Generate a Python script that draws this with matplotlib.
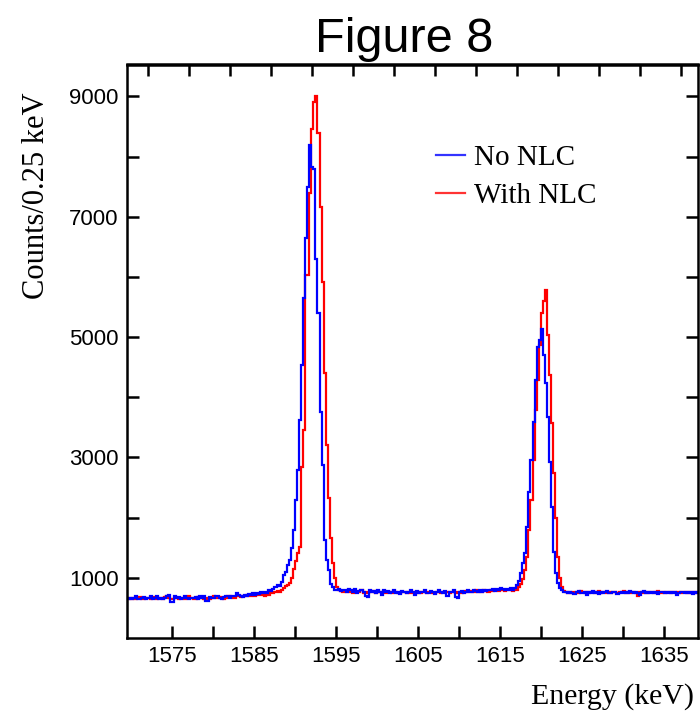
import numpy as np
import matplotlib
matplotlib.use("Agg")
import matplotlib.pyplot as plt
from matplotlib.lines import Line2D

plt.rcParams['font.family'] = 'Liberation Sans'

# histogram binning (Counts/0.25 keV)
bin_start = 1569.5
bin_width = 0.25

# --- No NLC (blue) ---
blue_left = [
    650, 670, 640, 660, 690, 655, 640, 670, 680, 650,
    660, 700, 640, 665, 690, 650, 670, 640, 660, 700,
    720, 600, 590, 700, 660, 680, 650, 670, 690, 660,
    640, 670, 660, 680, 650, 690, 660, 700, 610, 620,
    680, 670, 660, 690, 700, 670, 650, 680, 700, 690,
    660, 700, 690, 740, 720, 690, 680, 710, 700, 730,
    720, 750, 710, 740, 730, 760]
blue_peak1 = [
    740, 760, 750, 790, 780, 820, 840, 880, 870, 930,
    1050, 1100, 1220, 1300, 1500, 1800, 2300, 2800, 3630, 4540,
    5650, 6640, 7490, 8200, 7820, 7790, 6290, 5400, 3760, 2880,
    1630, 1300, 1130, 900, 850, 800, 790, 820, 780, 800]
blue_mid = [
    800, 770, 820, 790, 760, 810, 740, 780, 800, 760,
    700, 680, 790, 760, 780, 740, 800, 770, 720, 790,
    760, 780, 740, 770, 800, 750, 760, 730, 780, 760,
    740, 770, 790, 760, 720, 780, 750, 770, 760, 790,
    740, 750, 780, 760, 730, 770, 790, 760, 750, 780,
    700, 760, 770, 790, 680, 660, 760, 780, 750, 770,
    790, 760, 770, 800, 780, 760, 790, 770, 800, 780,
    800, 790, 810, 780, 820, 800, 830, 810, 790, 820,
    800, 830]
blue_peak2 = [
    800, 830, 880, 950, 1080, 1250, 1410, 1850, 2430, 2960,
    3590, 4290, 4840, 4960, 5140, 4700, 4240, 3680, 2930, 2180,
    1430, 1080, 910, 830, 790, 760]
blue_right = [
    760, 740, 770, 750, 730, 760, 780, 740, 750, 770,
    720, 760, 750, 780, 740, 760, 730, 770, 750, 760,
    780, 740, 750, 770, 760, 730, 750, 770, 740, 760,
    750, 780, 760, 740, 770, 750, 720, 760, 780, 750,
    760, 740, 770, 750, 760, 730, 760, 770, 740, 760,
    750, 770, 740, 760, 720, 750, 770, 760, 740, 760,
    750, 770, 730, 760, 750, 770]

# --- With NLC (red) ---
red_left = [
    640, 660, 650, 670, 650, 660, 680, 650, 640, 670,
    660, 650, 680, 660, 640, 670, 660, 650, 680, 690,
    660, 640, 650, 670, 660, 650, 670, 660, 650, 680,
    690, 660, 640, 650, 680, 660, 670, 640, 630, 660,
    650, 670, 690, 660, 670, 680, 660, 650, 670, 690,
    700, 680, 660, 690, 700, 680, 700, 690, 720, 700,
    690, 720, 700, 730, 710, 720]
red_peak1 = [
    720, 700, 730, 720, 750, 740, 760, 780, 770, 800,
    830, 860, 880, 920, 1000, 1150, 1280, 1420, 1520, 2840,
    3460, 6040, 6040, 7400, 8450, 8900, 9000, 8400, 7170, 5920,
    4400, 3210, 2330, 1670, 1250, 1000, 850, 800, 780, 760]
red_mid = [
    780, 760, 790, 770, 750, 780, 760, 770, 790, 750,
    760, 740, 770, 760, 780, 750, 760, 770, 740, 760,
    750, 770, 760, 740, 770, 760, 750, 740, 760, 770,
    750, 760, 740, 760, 770, 750, 760, 740, 770, 760,
    750, 760, 770, 750, 740, 760, 770, 750, 760, 770,
    760, 750, 770, 760, 740, 760, 770, 750, 760, 780,
    770, 760, 780, 770, 790, 760, 780, 770, 790, 780,
    770, 790, 780, 800, 790, 780, 800, 790, 780, 800,
    790, 800]
red_peak2 = [
    780, 790, 800, 850, 900, 980, 1130, 1350, 1800, 2290,
    2960, 3790, 4290, 4870, 5400, 5600, 5790, 5040, 4370, 3570,
    2740, 2000, 1350, 1000, 850, 780]
red_right = [
    770, 750, 760, 740, 770, 760, 750, 780, 760, 740,
    760, 750, 770, 760, 740, 760, 780, 750, 760, 770,
    750, 760, 740, 770, 760, 750, 770, 760, 780, 750,
    760, 740, 770, 760, 750, 700, 760, 770, 750, 760,
    740, 760, 770, 750, 760, 780, 750, 760, 740, 770,
    760, 750, 770, 760, 740, 760, 750, 770, 760, 750,
    760, 740, 770, 750, 760, 750]

blue_counts = np.concatenate([blue_left, blue_peak1, blue_mid, blue_peak2, blue_right])
red_counts = np.concatenate([red_left, red_peak1, red_mid, red_peak2, red_right])
edges = bin_start + bin_width * np.arange(len(blue_counts) + 1)

x_major = [1575, 1585, 1595, 1605, 1615, 1625, 1635]
x_minor = [1580, 1590, 1600, 1610, 1620, 1630]
y_major = [1000, 3000, 5000, 7000, 9000]
y_minor = [2000, 4000, 6000, 8000]
top_ticks = [1572.1 + 5 * k for k in range(14)]

fig = plt.figure(figsize=(7, 7.15), dpi=100)
ax = fig.add_axes([127 / 700, 1 - 638 / 715, (698 - 127) / 700, (638 - 64.5) / 715])

ax.stairs(red_counts, edges, baseline=None, color='#ff0000', lw=1.6)
ax.stairs(blue_counts, edges, baseline=None, color='#0000ff', lw=1.6)

ax.set_xlim(1569.5, 1639.2)
ax.set_ylim(0, 9530)

ax.set_xticks(x_major)
ax.set_xticks(x_minor, minor=True)
ax.set_yticks(y_major)
ax.set_yticks(y_minor, minor=True)
ax.tick_params(which='both', direction='in', length=8.5, width=1.8,
               right=True, labelsize=16, pad=6)

top = ax.secondary_xaxis('top')
top.set_xticks(top_ticks)
top.tick_params(direction='in', length=8.5, width=1.8, labeltop=False)
top.spines['top'].set_linewidth(1.8)

for s in ax.spines.values():
    s.set_linewidth(1.8)

serif = 'Liberation Serif'
ax.set_xlabel('Energy (keV)', family=serif, fontsize=21.5, ha='right', va='top')
ax.xaxis.set_label_coords((694 - 127) / 571, (638 - 683) / 573.5)
ax.set_ylabel('Counts/0.25 keV', family=serif, fontsize=22)
ax.yaxis.set_label_coords(-0.133, 0.772)

handles = [Line2D([], [], color='#3333ff', lw=1.6),
           Line2D([], [], color='#ff3333', lw=1.6)]
ax.legend(handles, ['No NLC', 'With NLC'], loc='upper left',
          bbox_to_anchor=(436 / 700, 1 - 145 / 715), bbox_transform=fig.transFigure,
          frameon=False, borderpad=0, borderaxespad=0, handlelength=1.0,
          handletextpad=0.3, labelspacing=0.38, prop={'family': serif, 'size': 21})

fig.text(404 / 700, 1 - 52 / 715, 'Figure 8', ha='center', va='baseline', fontsize=35)

fig.savefig('out.png', dpi=100)
